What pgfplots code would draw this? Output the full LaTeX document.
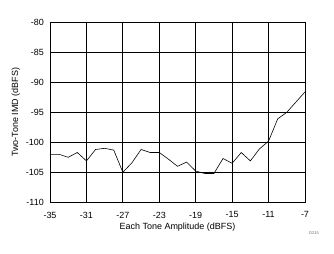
\documentclass[border=0pt]{standalone}
\usepackage{pgfplots}
\pgfplotsset{compat=1.18}
\usepackage{fontspec}
\setmainfont{Liberation Sans}
\usetikzlibrary{calc}
\begin{document}
\begin{tikzpicture}
\begin{axis}[
  name=ax,
  scale only axis,
  width=255bp, height=180bp,
  xmin=-35, xmax=-7, ymin=-110, ymax=-80,
  xtick={-35,-31,...,-7},
  ytick={-110,-105,...,-80},
  grid=major,
  major grid style={black, line width=0.8pt},
  axis line style={black, line width=0.8pt},
  major tick length=0pt,
  tick label style={font=\fontsize{9}{10}\selectfont},
  label style={font=\fontsize{9}{10}\selectfont},
  /pgf/number format/assume math mode=true,
  xlabel={Each Tone Amplitude (dBFS)},
  ylabel={Two-Tone IMD (dBFS)},
  xlabel style={at={(axis description cs:0.5,0)}, anchor=center, yshift=-24.4bp},
  ylabel style={at={(axis description cs:0,0.5)}, anchor=center, yshift=34.3bp},
  xticklabel style={yshift=-6bp},
  yticklabel style={xshift=-2.7bp},
]
\addplot[black, line width=0.6pt] coordinates {
(-35,-102.0) (-34,-102.0) (-33,-102.5) (-32,-101.7) (-31,-103.1)
(-30,-101.2) (-29,-101.0) (-28,-101.3) (-27,-105.0) (-26,-103.4)
(-25,-101.2) (-24,-101.7) (-23,-101.7) (-22,-102.8) (-21,-104.0)
(-20,-103.3) (-19,-104.8) (-18,-105.2) (-17,-105.2) (-16,-102.7)
(-15,-103.5) (-14,-101.7) (-13,-103.1) (-12,-101.1) (-11,-99.8)
(-10,-96.1) (-9,-95.0) (-8,-93.3) (-7,-91.6)
};
\end{axis}
\node[font=\fontsize{4}{5}\selectfont, text=black!60, anchor=center] at ($(ax.south east)+(9bp,-30.7bp)$) {D215};
\pgfresetboundingbox
\path[use as bounding box] ($(ax.south west)+(-50bp,-51.7bp)$) rectangle ($(ax.north east)+(29bp,22.3bp)$);
\end{tikzpicture}
\end{document}
